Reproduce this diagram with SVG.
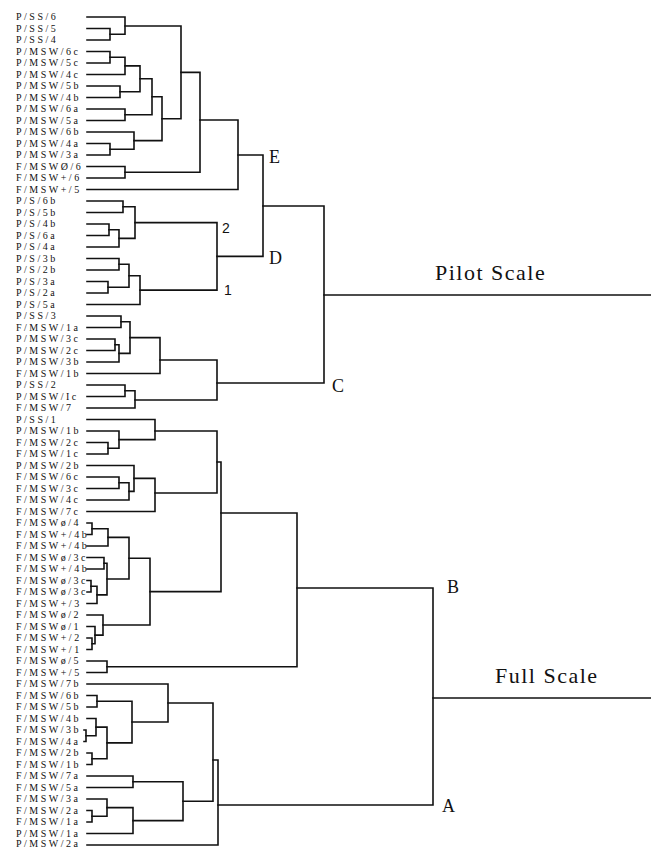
<svg xmlns="http://www.w3.org/2000/svg" width="651" height="849" viewBox="0 0 651 849">
<style>
.lbl{font-family:"Liberation Serif","Times New Roman",serif;font-size:10px;letter-spacing:2.5px;fill:#111}
.cl{font-family:"Liberation Serif","Times New Roman",serif;font-size:18px;fill:#111}
.num{font-family:"Liberation Sans",Arial,sans-serif;font-size:14px;fill:#111}
.ttl{font-family:"Liberation Serif","Times New Roman",serif;font-size:22px;letter-spacing:1.5px;fill:#111}
.ln{fill:none;stroke:#111;stroke-width:1.6;stroke-linejoin:miter;stroke-linecap:square}
</style>
<rect width="651" height="849" fill="#fff"/>
<g id="leaves" class="lbl">
<g id="n1"><text x="16" y="20.3">P/SS/6</text></g>
<g id="n2"><text x="16" y="31.8">P/SS/5</text></g>
<g id="n3"><text x="16" y="43.3">P/SS/4</text></g>
<g id="n4"><text x="16" y="54.8">P/MSW/6c</text></g>
<g id="n5"><text x="16" y="66.3">P/MSW/5c</text></g>
<g id="n6"><text x="16" y="77.8">P/MSW/4c</text></g>
<g id="n7"><text x="16" y="89.3">P/MSW/5b</text></g>
<g id="n8"><text x="16" y="100.8">P/MSW/4b</text></g>
<g id="n9"><text x="16" y="112.3">P/MSW/6a</text></g>
<g id="n10"><text x="16" y="123.8">P/MSW/5a</text></g>
<g id="n11"><text x="16" y="135.3">P/MSW/6b</text></g>
<g id="n12"><text x="16" y="146.8">P/MSW/4a</text></g>
<g id="n13"><text x="16" y="158.3">P/MSW/3a</text></g>
<g id="n14"><text x="16" y="169.8">F/MSWØ/6</text></g>
<g id="n15"><text x="16" y="181.3">F/MSW+/6</text></g>
<g id="n16"><text x="16" y="192.8">F/MSW+/5</text></g>
<g id="n17"><text x="16" y="204.3">P/S/6b</text></g>
<g id="n18"><text x="16" y="215.8">P/S/5b</text></g>
<g id="n19"><text x="16" y="227.3">P/S/4b</text></g>
<g id="n20"><text x="16" y="238.8">P/S/6a</text></g>
<g id="n21"><text x="16" y="250.3">P/S/4a</text></g>
<g id="n22"><text x="16" y="261.8">P/S/3b</text></g>
<g id="n23"><text x="16" y="273.3">P/S/2b</text></g>
<g id="n24"><text x="16" y="284.8">P/S/3a</text></g>
<g id="n25"><text x="16" y="296.3">P/S/2a</text></g>
<g id="n26"><text x="16" y="307.8">P/S/5a</text></g>
<g id="n27"><text x="16" y="319.3">P/SS/3</text></g>
<g id="n28"><text x="16" y="330.8">F/MSW/1a</text></g>
<g id="n29"><text x="16" y="342.3">P/MSW/3c</text></g>
<g id="n30"><text x="16" y="353.8">P/MSW/2c</text></g>
<g id="n31"><text x="16" y="365.3">P/MSW/3b</text></g>
<g id="n32"><text x="16" y="376.8">F/MSW/1b</text></g>
<g id="n33"><text x="16" y="388.3">P/SS/2</text></g>
<g id="n34"><text x="16" y="399.8">P/MSW/Ic</text></g>
<g id="n35"><text x="16" y="411.3">F/MSW/7</text></g>
<g id="n36"><text x="16" y="422.8">P/SS/1</text></g>
<g id="n37"><text x="16" y="434.3">P/MSW/1b</text></g>
<g id="n38"><text x="16" y="445.8">F/MSW/2c</text></g>
<g id="n39"><text x="16" y="457.3">F/MSW/1c</text></g>
<g id="n40"><text x="16" y="468.8">P/MSW/2b</text></g>
<g id="n41"><text x="16" y="480.3">F/MSW/6c</text></g>
<g id="n42"><text x="16" y="491.8">F/MSW/3c</text></g>
<g id="n43"><text x="16" y="503.3">F/MSW/4c</text></g>
<g id="n44"><text x="16" y="514.8">F/MSW/7c</text></g>
<g id="n45"><text x="16" y="526.3">F/MSWø/4</text></g>
<g id="n46"><text x="16" y="537.8">F/MSW+/4b</text></g>
<g id="n47"><text x="16" y="549.3">F/MSW+/4b</text></g>
<g id="n48"><text x="16" y="560.8">F/MSWø/3c</text></g>
<g id="n49"><text x="16" y="572.3">F/MSW+/4b</text></g>
<g id="n50"><text x="16" y="583.8">F/MSWø/3c</text></g>
<g id="n51"><text x="16" y="595.3">F/MSWø/3c</text></g>
<g id="n52"><text x="16" y="606.8">F/MSW+/3</text></g>
<g id="n53"><text x="16" y="618.3">F/MSWø/2</text></g>
<g id="n54"><text x="16" y="629.8">F/MSWø/1</text></g>
<g id="n55"><text x="16" y="641.3">F/MSW+/2</text></g>
<g id="n56"><text x="16" y="652.8">F/MSW+/1</text></g>
<g id="n57"><text x="16" y="664.3">F/MSWø/5</text></g>
<g id="n58"><text x="16" y="675.8">F/MSW+/5</text></g>
<g id="n59"><text x="16" y="687.3">F/MSW/7b</text></g>
<g id="n60"><text x="16" y="698.8">F/MSW/6b</text></g>
<g id="n61"><text x="16" y="710.3">F/MSW/5b</text></g>
<g id="n62"><text x="16" y="721.8">F/MSW/4b</text></g>
<g id="n63"><text x="16" y="733.3">F/MSW/3b</text></g>
<g id="n64"><text x="16" y="744.8">F/MSW/4a</text></g>
<g id="n65"><text x="16" y="756.3">F/MSW/2b</text></g>
<g id="n66"><text x="16" y="767.8">F/MSW/1b</text></g>
<g id="n67"><text x="16" y="779.3">F/MSW/7a</text></g>
<g id="n68"><text x="16" y="790.8">F/MSW/5a</text></g>
<g id="n69"><text x="16" y="802.3">F/MSW/3a</text></g>
<g id="n70"><text x="16" y="813.8">F/MSW/2a</text></g>
<g id="n71"><text x="16" y="825.3">F/MSW/1a</text></g>
<g id="n72"><text x="16" y="836.8">P/MSW/1a</text></g>
<g id="n73"><text x="16" y="846.5">P/MSW/2a</text></g>
</g>
<g id="cluster-labels">
<g id="E"><text class="cl" x="269" y="163">E</text></g>
<g id="D"><text class="cl" x="269" y="264">D</text></g>
<g id="C"><text class="cl" x="332" y="392">C</text></g>
<g id="c2"><text class="num" x="222" y="233">2</text></g>
<g id="c1"><text class="num" x="224" y="295">1</text></g>
<g id="B"><text class="cl" x="447" y="593">B</text></g>
<g id="A"><text class="cl" x="442" y="812">A</text></g>
<g id="pilot"><text class="ttl" x="435" y="280">Pilot Scale</text></g>
<g id="full"><text class="ttl" x="495" y="683">Full Scale</text></g>
</g>
<g id="connectors" class="ln">
<path d="M87 28.5H110V40H87"/>
<path d="M87 17H125V34.25H110"/>
<path d="M87 51.5H110V63H87"/>
<path d="M110 57.25H125V74.5H87"/>
<path d="M87 86H120V97.5H87"/>
<path d="M125 65.9H140V91.75H120"/>
<path d="M87 109H125V120.5H87"/>
<path d="M140 78.8H152V114.75H125"/>
<path d="M87 143.5H110V155H87"/>
<path d="M87 132H134V149.25H110"/>
<path d="M152 96.8H162V140.6H134"/>
<path d="M125 26H181V118.7H162"/>
<path d="M87 166.5H125V178H87"/>
<path d="M181 72.4H200V172.25H125"/>
<path d="M200 120H238V189.5H87"/>
<path d="M87 201H123V212.5H87"/>
<path d="M87 224H109V235.5H87"/>
<path d="M109 229.75H119V247H87"/>
<path d="M123 206.75H135V238.4H119"/>
<path d="M87 258.5H119V270H87"/>
<path d="M87 281.5H108V293H87"/>
<path d="M119 264.25H129V287.25H108"/>
<path d="M129 275.75H140V304.5H87"/>
<path d="M135 222.6H217V290.1H140"/>
<path d="M238 155H263V256.4H217"/>
<path d="M87 316H121V327.5H87"/>
<path d="M87 339H115V350.5H87"/>
<path d="M115 344.75H119V362H87"/>
<path d="M121 321.75H130V353.4H119"/>
<path d="M130 337.6H160V373.5H87"/>
<path d="M87 385H125V396.5H87"/>
<path d="M125 390.75H135V408H87"/>
<path d="M160 360H217V400H135"/>
<path d="M263 206H324V383H217"/>
<path d="M324 295H651"/>
<path d="M87 442.5H108V454H87"/>
<path d="M87 431H119V448.25H108"/>
<path d="M87 419.5H155V439.6H119"/>
<path d="M87 477H119V488.5H87"/>
<path d="M119 482.75H129V500H87"/>
<path d="M87 465.5H134V491.4H129"/>
<path d="M134 478.4H155V511.5H87"/>
<path d="M155 431H217V493H155"/>
<path d="M87 523H92V534.5H87"/>
<path d="M92 528.75H108V546H87"/>
<path d="M87 557.5H104V569H87"/>
<path d="M87 580.5H91V592H87"/>
<path d="M91 586.25H97V603.5H87"/>
<path d="M104 563.25H107V594.9H97"/>
<path d="M108 537.4H129V579H107"/>
<path d="M87 638H92V649.5H87"/>
<path d="M87 626.5H95V643.75H92"/>
<path d="M87 615H103V635.1H95"/>
<path d="M129 558.2H150V625H103"/>
<path d="M217 462H221V591.6H150"/>
<path d="M87 661H107V672.5H87"/>
<path d="M221 513H297V666.75H107"/>
<path d="M87 695.5H97V707H87"/>
<path d="M84 730H86V741.5H84"/>
<path d="M87 718.5H96V735.75H86"/>
<path d="M87 753H92V764.5H87"/>
<path d="M96 727.1H107V758.75H92"/>
<path d="M97 701.25H132V742.9H107"/>
<path d="M87 684H168V722H132"/>
<path d="M87 776H133V787.5H87"/>
<path d="M87 810.5H92V822H87"/>
<path d="M87 799H107V816.25H92"/>
<path d="M107 807.6H133V833.5H87"/>
<path d="M133 781.75H183V820.6H133"/>
<path d="M168 703H213V801.2H183"/>
<path d="M213 760H218V845H87"/>
<path d="M297 588H433V805H218"/>
<path d="M433 698H651"/>
</g>
</svg>
